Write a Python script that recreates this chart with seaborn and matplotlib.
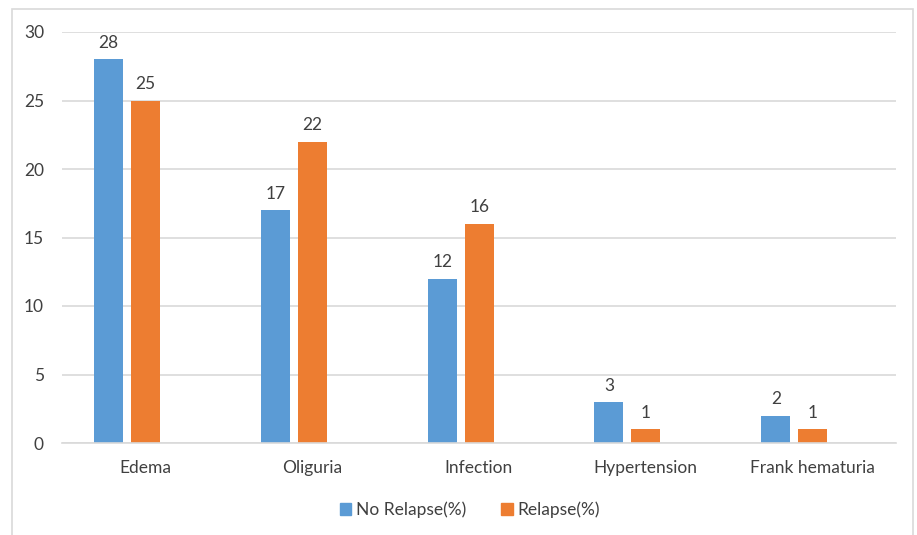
import matplotlib
matplotlib.use("Agg")
import matplotlib.pyplot as plt
from matplotlib.patches import Rectangle
import seaborn as sns
import pandas as pd

categories = ["Edema", "Oliguria", "Infection", "Hypertension", "Frank hematuria"]
no_relapse = [28, 17, 12, 3, 2]
relapse = [25, 22, 16, 1, 1]
series_names = ["No Relapse(%)", "Relapse(%)"]
colors = ["#5B9BD5", "#ED7D31"]
y_ticks = [0, 5, 10, 15, 20, 25, 30]

df = pd.DataFrame({
    "Symptom": categories * 2,
    "Value": no_relapse + relapse,
    "Group": [series_names[0]] * len(categories) + [series_names[1]] * len(categories),
})

sns.set_theme(style="white")
plt.rcParams["font.family"] = ["Lato", "DejaVu Sans"]

W, H = 917, 535
fig = plt.figure(figsize=(W / 100, H / 100), dpi=100)
ax = fig.add_axes([62 / W, 1 - 443 / H, (896 - 62) / W, (443 - 32) / H])

sns.barplot(data=df, x="Symptom", y="Value", hue="Group", order=categories,
            hue_order=series_names, palette=colors, width=0.4436, gap=0.216,
            saturation=1, errorbar=None, ax=ax, legend=False, linewidth=0)

text_col = "#404040"
fs = 12.5
for container in ax.containers:
    ax.bar_label(container, fmt="%g", padding=6, fontsize=fs, color=text_col)

ax.set_ylim(0, 30)
ax.set_xlim(-0.39, 4.61)
ax.set_yticks(y_ticks)
ax.set_yticklabels([str(t) for t in y_ticks], fontsize=fs, color=text_col)
ax.set_xticks([i + 0.108 for i in range(len(categories))])
ax.set_xticklabels(categories, fontsize=fs, color=text_col)
ax.tick_params(axis="y", length=0, pad=13)
ax.tick_params(axis="x", length=0, pad=12)
ax.set_xlabel("")
ax.set_ylabel("")
ax.yaxis.grid(True, color="#D9D9D9", linewidth=1.2)
ax.set_axisbelow(True)
for side in ["top", "right", "left"]:
    ax.spines[side].set_visible(False)
ax.spines["bottom"].set_color("#D9D9D9")
ax.spines["bottom"].set_linewidth(1.2)

# legend
handles = [Rectangle((0, 0), 1, 1, color=c) for c in colors]
fig.legend(handles, series_names, loc="center", bbox_to_anchor=(470 / W, 1 - 510 / H),
           ncol=2, frameon=False, fontsize=fs, handlelength=0.65, handleheight=0.65,
           handletextpad=0.3, columnspacing=2.0, labelcolor=text_col)

# chart-area border
fig.patches.append(Rectangle((12 / W, -0.01), (913 - 12) / W, 1 - 9 / H + 0.01,
                             transform=fig.transFigure, fill=False,
                             edgecolor="#D9D9D9", linewidth=1.2))

fig.savefig("out.png", dpi=100)
